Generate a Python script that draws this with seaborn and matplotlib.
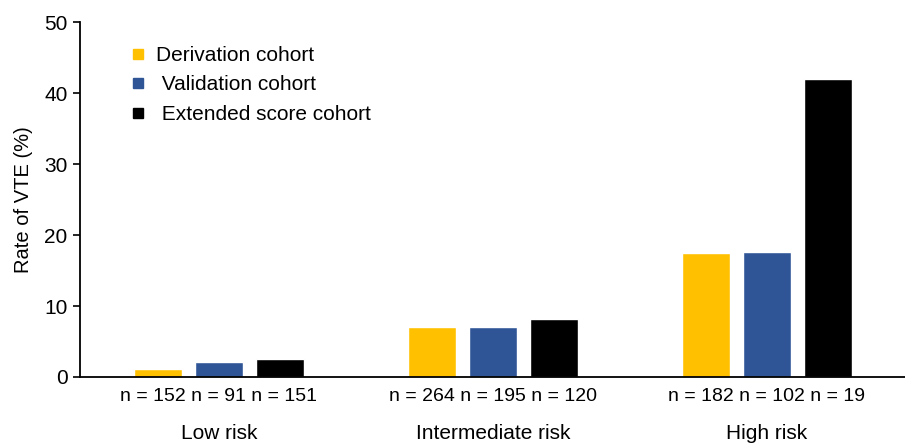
import numpy as np
import pandas as pd
import seaborn as sb
import matplotlib.pyplot as plt
from matplotlib.lines import Line2D

# data
risk_groups = ['Low risk', 'Intermediate risk', 'High risk']
cohorts = ['Derivation cohort', ' Validation cohort', ' Extended score cohort']
derivation_rate = [1.1, 7.1, 17.5]
validation_rate = [2.1, 7.1, 17.6]
extended_rate = [2.5, 8.2, 42.0]
derivation_n = [152, 264, 182]
validation_n = [91, 195, 102]
extended_n = [151, 120, 19]
colors = ['#FFC000', '#2F5597', '#000000']

rates = [derivation_rate, validation_rate, extended_rate]
counts = [derivation_n, validation_n, extended_n]

rows = []
for c, cohort in enumerate(cohorts):
    for r, risk in enumerate(risk_groups):
        rows.append({'risk': risk, 'cohort': cohort, 'rate': rates[c][r], 'n': counts[c][r]})
df = pd.DataFrame(rows)

sb.set_style('ticks')
plt.rcParams['font.family'] = ['Liberation Sans', 'DejaVu Sans']
plt.rcParams['text.color'] = 'black'
plt.rcParams['axes.labelcolor'] = 'black'
plt.rcParams['xtick.color'] = 'black'
plt.rcParams['ytick.color'] = 'black'

fig = plt.figure(figsize=(9.05, 4.45), dpi=100)
ax = fig.add_axes([80 / 905, 68 / 445, 825 / 905, 355 / 445])

sb.barplot(data=df, x='risk', y='rate', hue='cohort', palette=colors,
           width=0.667, gap=0.21, legend=False, ax=ax, saturation=1)

ax.set_ylim(0, 50)
ax.set_yticks(np.arange(0, 51, 10))
ax.set_xlim(-0.507, 2.504)
ax.set_ylabel('Rate of VTE (%)', fontsize=14.5, labelpad=8)
ax.set_xlabel('')
ax.tick_params(axis='y', labelsize=15, length=5, width=1.2, pad=4)

# one "n = ..." line per risk group, centred under the group
n_labels = [' '.join(f'n = {counts[c][r]}' for c in range(len(cohorts)))
            for r in range(len(risk_groups))]
ax.set_xticks(range(len(risk_groups)))
ax.set_xticklabels(n_labels, fontsize=14)
ax.tick_params(axis='x', length=0, pad=8)

# group labels
for r, risk in enumerate(risk_groups):
    ax.text(r, -0.16, risk, transform=ax.get_xaxis_transform(),
            ha='center', va='center', fontsize=15)

for s in ['top', 'right']:
    ax.spines[s].set_visible(False)
for s in ['left', 'bottom']:
    ax.spines[s].set_color('black')
    ax.spines[s].set_linewidth(1.3)

handles = [Line2D([0], [0], marker='s', linestyle='', markersize=7,
                  markerfacecolor=col, markeredgecolor=col) for col in colors]
ax.legend(handles, cohorts, loc='upper left', bbox_to_anchor=(0.035, 0.985),
          frameon=False, fontsize=15, handlelength=1.0, handletextpad=0.35,
          labelspacing=0.5)

plt.savefig('out.png', dpi=100)
